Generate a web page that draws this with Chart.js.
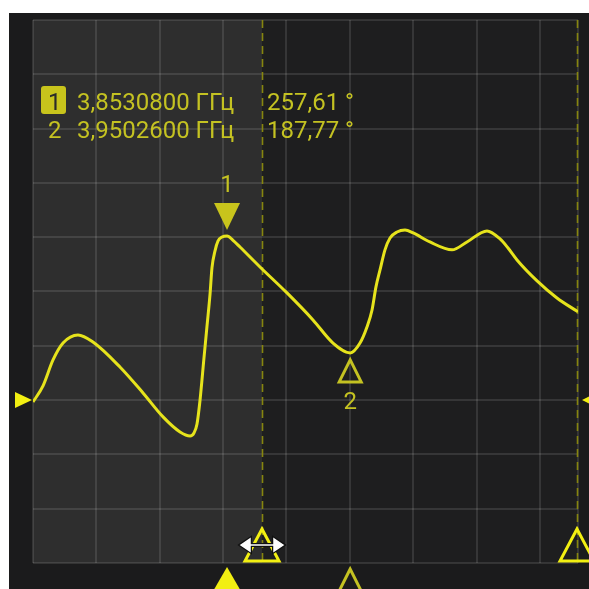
<!DOCTYPE html>
<html>
<head>
<meta charset="utf-8">
<script src="https://cdn.jsdelivr.net/npm/chart.js@4.4.1/dist/chart.umd.min.js"></script>
<style>
  html, body { margin: 0; background: #fff; }
  #wrap { position: absolute; left: 9px; top: 13px; width: 580px; height: 576px; }
</style>
</head>
<body>
<div id="wrap"><canvas id="c" width="580" height="576"></canvas></div>
<script>
// trace: frequency (GHz) vs phase (degrees)
const freqGHz = [3.7000, 3.7079, 3.7158, 3.7237, 3.7355, 3.7473, 3.7686, 3.7868, 3.8026, 3.8160,
  3.8239, 3.8270, 3.8294, 3.8318, 3.8349, 3.8373, 3.8397, 3.8412, 3.8436, 3.8460,
  3.8491, 3.8531, 3.8578, 3.8633, 3.8791, 3.9004, 3.9209, 3.9367, 3.9503, 3.9580,
  3.9635, 3.9675, 3.9706, 3.9738, 3.9777, 3.9817, 3.9872, 3.9935, 4.0000, 4.0132,
  4.0306, 4.0424, 4.0582, 4.0685, 4.0748, 4.0819, 4.0977, 4.1134, 4.1300];
const phaseDeg = [158.5, 168.1, 183.6, 193.7, 198.5, 194.3, 179.4, 163.9, 149.6, 140.6,
  138.2, 140.0, 145.4, 159.7, 184.8, 203.9, 223.0, 238.5, 248.7, 254.6,
  257.0, 257.6, 255.0, 251.0, 239.1, 223.6, 207.5, 193.7, 187.8, 193.7,
  203.3, 213.4, 227.2, 237.3, 249.3, 256.4, 260.0, 261.2, 259.4, 254.0,
  249.3, 254.0, 260.6, 255.8, 250.4, 243.3, 230.8, 220.6, 212.3];

// markers
const markerNames = ['1', '2'];
const markerFreq = [3.8530800, 3.9502600];
const markerPhase = [257.61, 187.77];

// axes
const xGridGHz = [3.70, 3.75, 3.80, 3.85, 3.90, 3.95, 4.00, 4.05, 4.10, 4.13];
const yMinDeg = 62.4, yMaxDeg = 386.5;
const refDeg = 159.7;
const cursorGHz = [3.8807, 4.1292];

const TRACE = '#e6e31c';
const TXT = '#c4c222';
const BRIGHT = '#f2ef12';

function tri(ctx, x, yTip, half, h, dir, fill, color) {
  // dir: 1 -> tip at top (points up), -1 -> tip at bottom (points down)
  ctx.beginPath();
  ctx.moveTo(x, yTip);
  ctx.lineTo(x - half, yTip + dir * h);
  ctx.lineTo(x + half, yTip + dir * h);
  ctx.closePath();
  if (fill) { ctx.fillStyle = color; ctx.fill(); }
  else { ctx.strokeStyle = color; ctx.lineWidth = 3; ctx.lineJoin = 'miter'; ctx.stroke(); }
}

const scopePlugin = {
  id: 'scope',
  beforeDraw(chart) {
    const { ctx, chartArea: a, scales: { x } } = chart;
    ctx.save();
    ctx.fillStyle = '#1b1b1c';
    ctx.fillRect(0, 0, chart.width, chart.height);
    ctx.fillStyle = '#1e1e1f';
    ctx.fillRect(a.left, a.top, a.right - a.left, a.bottom - a.top);
    const cx = x.getPixelForValue(cursorGHz[0]);
    ctx.fillStyle = '#2e2e2e';
    ctx.fillRect(a.left, a.top, cx - a.left, a.bottom - a.top);
    ctx.restore();
  },
  beforeDatasetsDraw(chart) {
    const { ctx, chartArea: a, scales: { x } } = chart;
    ctx.save();
    ctx.strokeStyle = '#86850f';
    ctx.lineWidth = 1.6;
    ctx.setLineDash([8, 5]);
    cursorGHz.forEach(f => {
      const px = Math.round(x.getPixelForValue(f)) + 0.5;
      ctx.beginPath();
      ctx.moveTo(px, a.top);
      ctx.lineTo(px, a.bottom);
      ctx.stroke();
    });
    ctx.restore();
  },
  afterDatasetsDraw(chart) {
    const { ctx, chartArea: a, scales: { x, y } } = chart;
    ctx.save();

    // marker 1 (active, filled) and marker 2 (outlined)
    const m1x = x.getPixelForValue(markerFreq[0]), m1y = y.getPixelForValue(markerPhase[0]);
    const m2x = x.getPixelForValue(markerFreq[1]), m2y = y.getPixelForValue(markerPhase[1]);
    tri(ctx, m1x, m1y - 6, 13, 27, -1, true, '#c8c41c');
    tri(ctx, m2x, m2y + 7, 11, 22, 1, false, TXT);
    ctx.font = '24px Roboto';
    ctx.textAlign = 'center';
    ctx.textBaseline = 'middle';
    ctx.fillStyle = TXT;
    ctx.fillText(markerNames[0], m1x, m1y - 50);
    ctx.fillText(markerNames[1], m2x, m2y + 50);

    // markers on the frequency axis
    tri(ctx, m1x, a.bottom + 4, 15, 26, 1, true, BRIGHT);
    tri(ctx, m2x, a.bottom + 6, 12, 24, 1, false, TXT);

    // cursor handles
    cursorGHz.forEach(f => {
      const px = Math.round(x.getPixelForValue(f));
      tri(ctx, px, a.bottom - 34, 17, 32, 1, false, BRIGHT);
    });

    // drag arrow on cursor 1
    const ax = Math.round(x.getPixelForValue(cursorGHz[0])), ay = a.bottom - 18;
    const drawArrow = (col, w) => {
      ctx.strokeStyle = col; ctx.fillStyle = col; ctx.lineWidth = w;
      ctx.beginPath(); ctx.moveTo(ax - 14, ay); ctx.lineTo(ax + 14, ay); ctx.stroke();
      ctx.beginPath(); ctx.moveTo(ax - 21, ay); ctx.lineTo(ax - 12, ay - 6); ctx.lineTo(ax - 12, ay + 6); ctx.closePath(); ctx.fill(); ctx.stroke();
      ctx.beginPath(); ctx.moveTo(ax + 21, ay); ctx.lineTo(ax + 12, ay - 6); ctx.lineTo(ax + 12, ay + 6); ctx.closePath(); ctx.fill(); ctx.stroke();
    };
    drawArrow('#111', 4);
    drawArrow('#ffffff', 1.5);

    // reference level arrows
    const ry = y.getPixelForValue(refDeg);
    ctx.fillStyle = BRIGHT;
    ctx.beginPath(); ctx.moveTo(a.left - 1, ry); ctx.lineTo(a.left - 18, ry - 8); ctx.lineTo(a.left - 18, ry + 8); ctx.closePath(); ctx.fill();
    ctx.beginPath(); ctx.moveTo(a.right + 4, ry); ctx.lineTo(a.right + 20, ry - 8); ctx.lineTo(a.right + 20, ry + 8); ctx.closePath(); ctx.fill();

    // marker readout
    ctx.textAlign = 'left';
    ctx.textBaseline = 'alphabetic';
    ctx.font = '24px Roboto';
    const rows = [a.top + 90, a.top + 118];
    markerNames.forEach((n, i) => {
      const by = rows[i];
      if (i === 0) {
        ctx.fillStyle = '#c8c41c';
        ctx.beginPath();
        ctx.roundRect(a.left + 8, by - 24, 25, 28, 3);
        ctx.fill();
        ctx.fillStyle = '#2a2a2a';
      } else {
        ctx.fillStyle = TXT;
      }
      ctx.fillText(n, a.left + 15, by);
      ctx.fillStyle = TXT;
      ctx.fillText(markerFreq[i].toFixed(7).replace('.', ',') + ' ГГц', a.left + 44, by);
      ctx.fillText(markerPhase[i].toFixed(2).replace('.', ',') + ' °', a.left + 234, by);
    });
    ctx.restore();
  }
};

new Chart(document.getElementById('c'), {
  type: 'line',
  data: {
    datasets: [{
      data: freqGHz.map((f, i) => ({ x: f, y: phaseDeg[i] })),
      borderColor: TRACE,
      borderWidth: 3,
      pointRadius: 0,
      cubicInterpolationMode: 'monotone',
      fill: false
    }]
  },
  options: {
    responsive: false,
    animation: false,
    devicePixelRatio: 1,
    layout: { padding: { left: 24, top: 7, right: 11, bottom: 26 } },
    plugins: { legend: { display: false }, tooltip: { enabled: false } },
    scales: {
      x: {
        type: 'linear',
        min: 3.70, max: 4.13,
        afterBuildTicks: s => { s.ticks = xGridGHz.map(v => ({ value: v })); },
        ticks: { display: false },
        grid: { color: 'rgba(255,255,255,0.11)', lineWidth: 2, drawTicks: false },
        border: { display: false }
      },
      y: {
        min: yMinDeg, max: yMaxDeg,
        ticks: { display: false, count: 11 },
        grid: { color: 'rgba(255,255,255,0.11)', lineWidth: 2, drawTicks: false },
        border: { display: false }
      }
    }
  },
  plugins: [scopePlugin]
});
</script>
</body>
</html>
